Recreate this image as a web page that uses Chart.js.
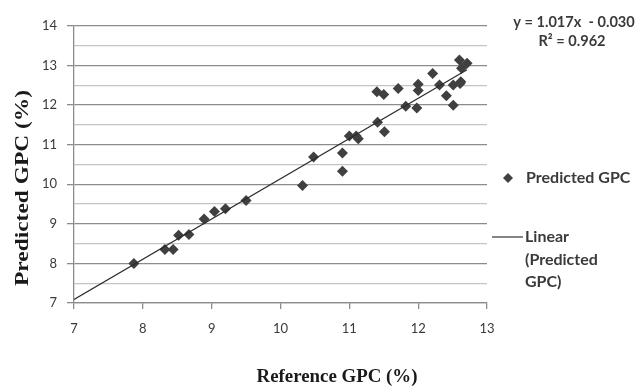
<!DOCTYPE html>
<html>
<head>
<meta charset="utf-8">
<script src="https://cdn.jsdelivr.net/npm/chart.js@4"></script>
<style>
html,body{margin:0;padding:0;background:#fff;}
#wrap{position:relative;width:638px;height:387px;}
</style>
</head>
<body>
<div id="wrap"><canvas id="c" width="638" height="387"></canvas></div>
<script>
// Reference GPC (%) values (x)
const referenceGPC = [7.87, 8.32, 8.44, 8.52, 8.67, 8.89, 9.04, 9.20, 9.50, 10.32, 10.48, 10.90, 10.90, 11.00, 11.10, 11.13,
  11.41, 11.51, 11.40, 11.50, 11.71, 11.82, 11.98, 12.00, 12.00, 12.21, 12.31, 12.41, 12.51, 12.51, 12.61, 12.62, 12.60, 12.71, 12.63];
// Predicted GPC (%) values (y)
const predictedGPC = [8.00, 8.35, 8.35, 8.71, 8.73, 9.12, 9.31, 9.38, 9.59, 9.97, 10.69, 10.79, 10.33, 11.22, 11.22, 11.15,
  11.57, 11.33, 12.34, 12.27, 12.42, 11.97, 11.93, 12.53, 12.37, 12.80, 12.51, 12.24, 12.00, 12.51, 12.55, 12.59, 13.14, 13.06, 12.93];
// Linear trendline y = 1.017x - 0.030, drawn between these x values
const trendSlope = 1.017;
const trendIntercept = -0.030;
const trendX = [7, 12.71];
const xTicks = [7, 8, 9, 10, 11, 12, 13];
const yTicks = [7, 8, 9, 10, 11, 12, 13, 14];

const scatterPts = referenceGPC.map((x, i) => ({x: x, y: predictedGPC[i]}));
const trendPts = trendX.map(x => ({x: x, y: trendSlope * x + trendIntercept}));

const textColor = '#3a3a3a';
const labelFont = 'Lato, "Open Sans", sans-serif';

const overlay = {
  id: 'overlay',
  afterDraw(chart) {
    const ctx = chart.ctx;
    ctx.save();
    // Equation
    ctx.fillStyle = textColor;
    ctx.font = 'bold 14.6px ' + labelFont;
    ctx.textAlign = 'center';
    ctx.textBaseline = 'middle';
    ctx.fillText('y = 1.017x  - 0.030', 574, 22);
    ctx.fillText('R² = 0.962', 572, 41);
    // Legend: Predicted GPC
    ctx.font = 'bold 16px ' + labelFont;
    const dx = 508, dy = 178, r = 5;
    ctx.beginPath();
    ctx.moveTo(dx, dy - r); ctx.lineTo(dx + r, dy); ctx.lineTo(dx, dy + r); ctx.lineTo(dx - r, dy); ctx.closePath();
    ctx.fillStyle = '#404040'; ctx.fill();
    ctx.fillStyle = textColor;
    ctx.textAlign = 'left';
    ctx.fillText('Predicted GPC', 526, 178);
    // Legend: Linear
    ctx.strokeStyle = '#333'; ctx.lineWidth = 1.2;
    ctx.beginPath(); ctx.moveTo(492, 237); ctx.lineTo(523, 237); ctx.stroke();
    ctx.fillText('Linear', 525, 237);
    ctx.fillText('(Predicted', 525, 260);
    ctx.fillText('GPC)', 525, 282);
    // Axis titles
    ctx.fillStyle = '#1a1a1a';
    ctx.font = 'bold 18px "Liberation Serif", "DejaVu Serif", serif';
    ctx.textAlign = 'center';
    ctx.textBaseline = 'middle';
    let w = ctx.measureText('Reference GPC (%)').width;
    ctx.save();
    ctx.translate(337, 377);
    ctx.scale(161 / w, 1);
    ctx.fillText('Reference GPC (%)', 0, 0);
    ctx.restore();
    w = ctx.measureText('Predicted GPC (%)').width;
    ctx.save();
    ctx.translate(23, 188);
    ctx.rotate(-Math.PI / 2);
    ctx.scale(196 / w, 1);
    ctx.fillText('Predicted GPC (%)', 0, 0);
    ctx.restore();
    ctx.restore();
  }
};

new Chart(document.getElementById('c'), {
  type: 'scatter',
  data: {
    datasets: [
      {
        label: 'Predicted GPC',
        data: scatterPts,
        pointStyle: 'rectRot',
        pointRadius: 5.5,
        pointHoverRadius: 5.5,
        backgroundColor: '#404040',
        borderColor: '#404040',
        borderWidth: 0,
        order: 2
      },
      {
        label: 'Linear (Predicted GPC)',
        type: 'line',
        data: trendPts,
        borderColor: '#2a2a2a',
        borderWidth: 1.2,
        pointRadius: 0,
        fill: false,
        order: 1
      }
    ]
  },
  options: {
    responsive: false,
    animation: false,
    events: [],
    layout: {padding: {left: 0, right: 151, top: 26, bottom: 0}},
    plugins: {legend: {display: false}, tooltip: {enabled: false}},
    scales: {
      x: {
        type: 'linear',
        min: 7, max: 13,
        afterFit(s) { s.height = 84; },
        afterBuildTicks(s) { s.ticks = xTicks.map(v => ({value: v})); },
        ticks: {color: textColor, font: {family: labelFont, size: 13}, padding: 12},
        grid: {drawOnChartArea: false, drawTicks: true, tickLength: 6, color: '#8c8c8c', lineWidth: 1.3},
        border: {display: true, color: '#8c8c8c', width: 1.3}
      },
      y: {
        type: 'linear',
        min: 7, max: 14,
        afterFit(s) { s.width = 74; },
        afterBuildTicks(s) {
          const t = [];
          for (let i = 0; i < yTicks.length; i++) {
            t.push({value: yTicks[i]});
            if (i < yTicks.length - 1) t.push({value: yTicks[i] + 0.5});
          }
          s.ticks = t;
        },
        ticks: {
          color: textColor, font: {family: labelFont, size: 13}, padding: 10,
          callback: v => (Number.isInteger(v) ? String(v) : '')
        },
        grid: {
          drawTicks: true, tickLength: 7,
          color: c => (c.tick && Number.isInteger(c.tick.value)) ? '#8c8c8c' : '#c4c4c4',
          tickColor: c => (c.tick && Number.isInteger(c.tick.value)) ? '#8c8c8c' : 'rgba(0,0,0,0)',
          lineWidth: 1.3
        },
        border: {display: true, color: '#8c8c8c', width: 1.3}
      }
    }
  },
  plugins: [overlay]
});
</script>
</body>
</html>
